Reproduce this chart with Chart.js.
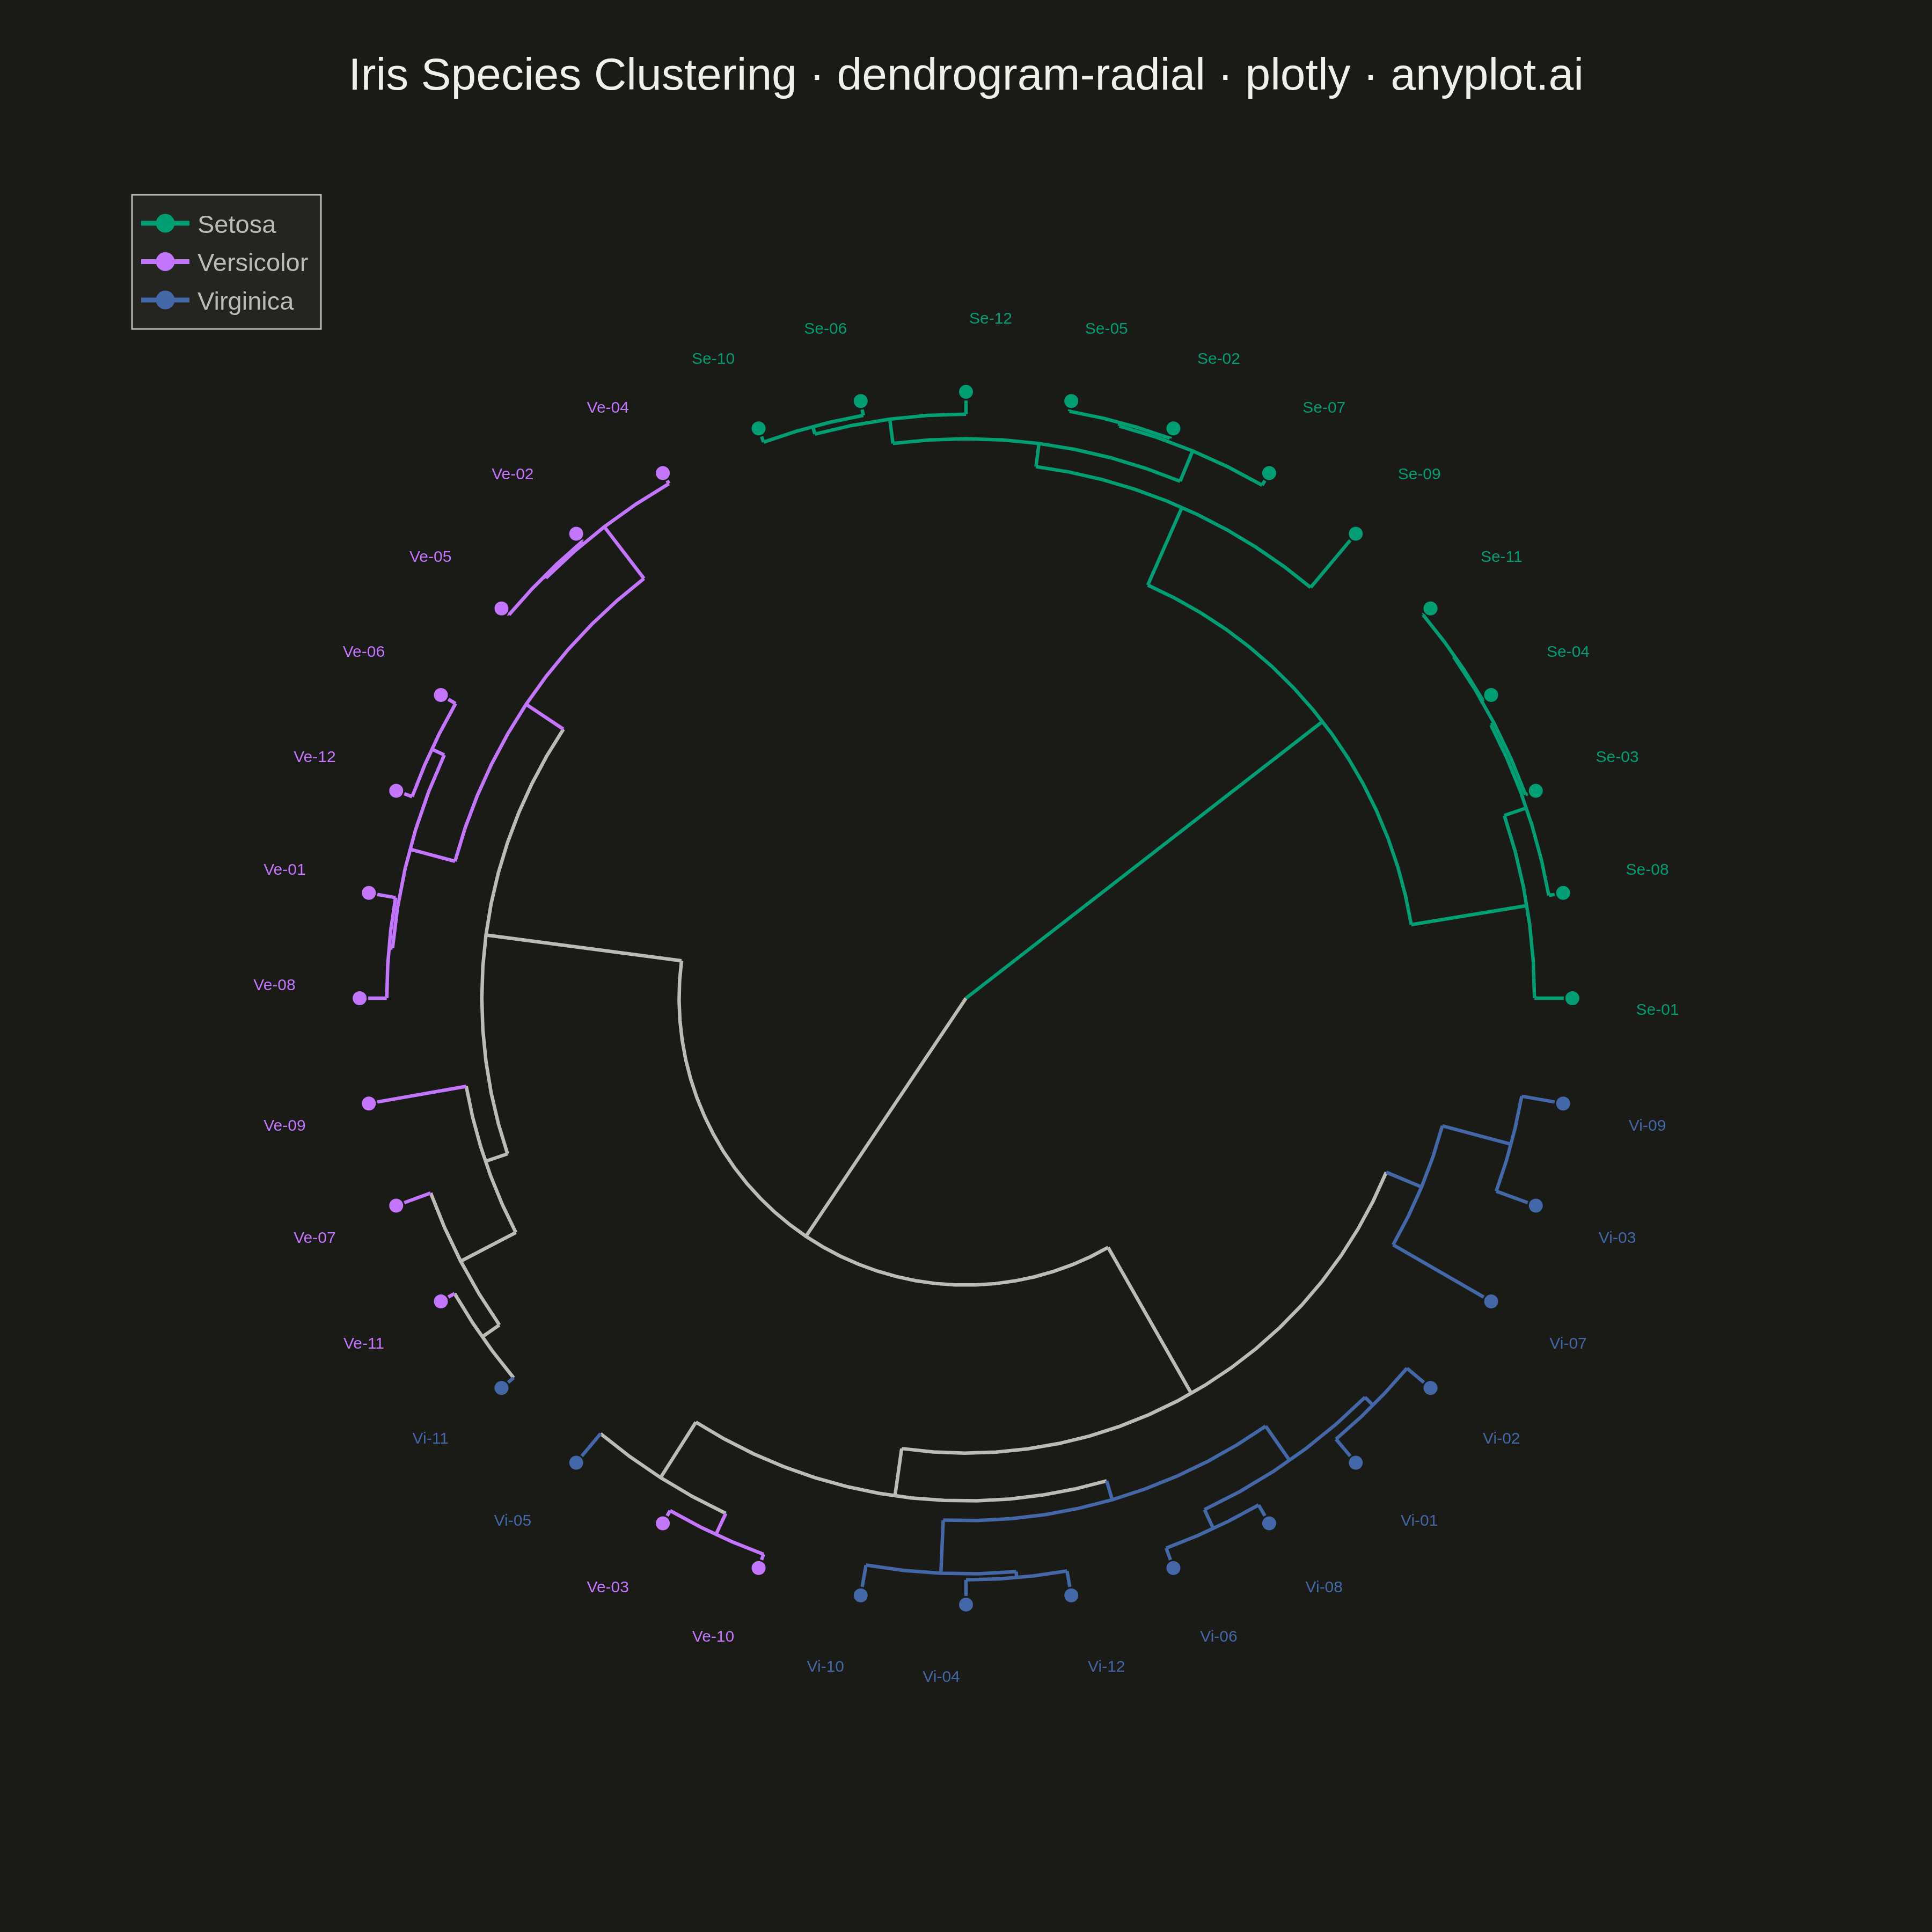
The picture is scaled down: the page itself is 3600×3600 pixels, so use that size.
<!DOCTYPE html>
<html>
<head>
<meta charset="utf-8">
<script src="https://cdn.jsdelivr.net/npm/chart.js@4.4.0/dist/chart.umd.min.js"></script>
<style>
  html, body { margin: 0; padding: 0; background: #1a1a17; }
  canvas { display: block; }
</style>
</head>
<body>
<canvas id="dendro" width="3600" height="3600" style="width:3600px;height:3600px"></canvas>
<script>
// Leaf order around the circle (counter-clockwise from 3 o'clock)
const leafNames = ['Se-01', 'Se-08', 'Se-03', 'Se-04', 'Se-11', 'Se-09', 'Se-07', 'Se-02', 'Se-05', 'Se-12', 'Se-06', 'Se-10',
    'Ve-04', 'Ve-02', 'Ve-05', 'Ve-06', 'Ve-12', 'Ve-01', 'Ve-08', 'Ve-09', 'Ve-07', 'Ve-11', 'Vi-11', 'Vi-05',
    'Ve-03', 'Ve-10', 'Vi-10', 'Vi-04', 'Vi-12', 'Vi-06', 'Vi-08', 'Vi-01', 'Vi-02', 'Vi-07', 'Vi-03', 'Vi-09'];

// Linkage: merge k joins mergeA[k] and mergeB[k] at mergeHeight[k]; '#k' refers to merge k
const mergeA = ['Se-04', 'Se-03', 'Se-08', 'Se-01', 'Se-02', 'Se-07', 'Se-06', 'Se-12', '#7', 'Se-09', '#3',
    'Ve-02', 'Ve-04', 'Ve-06', 'Ve-01', '#13', '#12', 'Ve-11', 'Ve-07', 'Ve-09', '#16',
    'Ve-03', 'Vi-05', 'Vi-04', 'Vi-10', 'Vi-06', 'Vi-01', '#25', '#24', '#22', 'Vi-03', 'Vi-07', '#29', '#20', '#10'];
const mergeB = ['Se-11', '#0', '#1', '#2', 'Se-05', '#4', 'Se-10', '#6', '#5', '#8', '#9',
    'Ve-05', '#11', 'Ve-12', 'Ve-08', '#14', '#15', 'Vi-11', '#17', '#18', '#19',
    'Ve-10', '#21', 'Vi-12', '#23', 'Vi-08', 'Vi-02', '#26', '#27', '#28', 'Vi-09', '#30', '#31', '#32', '#33'];
const mergeHeight = [0.02, 0.04, 0.10, 0.49, 0.03, 0.09, 0.10, 0.23, 0.64, 1.03, 2.45,
    0.02, 0.06, 0.14, 0.31, 0.37, 1.15, 0.12, 0.47, 1.51, 1.90,
    0.10, 0.49, 0.27, 0.37, 0.21, 0.37, 0.56, 1.26, 1.59, 0.56, 1.75, 2.39, 5.20, 10.00];

const speciesNames = ['Setosa', 'Versicolor', 'Virginica'];
const speciesPrefix = ['Se', 'Ve', 'Vi'];
const speciesColors = ['#009E73', '#C475FD', '#4467A8'];
const mixedColor = '#BDBCB4';

const markerRadius = 1.0144; // leaf dots sit just outside the tips
const labelRadius = 1.1155;

// Tree geometry
const rootHeight = Math.max(...mergeHeight);
const angleOf = {};
const heightOf = {};
const speciesOf = {};

leafNames.forEach((name, i) => {
    angleOf[name] = i * 360 / leafNames.length;
    heightOf[name] = 0;
    speciesOf[name] = speciesPrefix.indexOf(name.slice(0, 2));
});

function toRadius(h) {
    return 1 - h / rootHeight;
}

function polar(r, deg) {
    const t = deg * Math.PI / 180;
    return { x: r * Math.cos(t), y: r * Math.sin(t) };
}

function colorOf(id) {
    return speciesOf[id] >= 0 ? speciesColors[speciesOf[id]] : mixedColor;
}

const datasets = [];

function addSegment(points, color) {
    datasets.push({
        data: points,
        showLine: true,
        borderColor: color,
        borderWidth: 6.5,
        pointRadius: 0,
        pointHoverRadius: 0,
        order: 1
    });
}

mergeHeight.forEach((h, k) => {
    const id = '#' + k;
    const a = mergeA[k];
    const b = mergeB[k];
    angleOf[id] = (angleOf[a] + angleOf[b]) / 2;
    heightOf[id] = h;
    speciesOf[id] = speciesOf[a] === speciesOf[b] ? speciesOf[a] : -1;

    const r = toRadius(h);
    // radial lines from each child up to this merge, coloured by the child
    [a, b].forEach(child => {
        addSegment([polar(toRadius(heightOf[child]), angleOf[child]), polar(r, angleOf[child])], colorOf(child));
    });
    // arc joining the two children (coarse polyline), coloured by the merged cluster
    const a1 = angleOf[a];
    const a2 = angleOf[b];
    const steps = Math.max(2, Math.ceil(Math.abs(a2 - a1) / 4) + 1);
    const arc = [];
    for (let s = 0; s < steps; s++) {
        arc.push(polar(r, a1 + (a2 - a1) * s / (steps - 1)));
    }
    addSegment(arc, colorOf(id));
});

// Leaf dots, one dataset per species
speciesNames.forEach((sp, si) => {
    datasets.push({
        label: sp,
        data: leafNames.filter(n => speciesOf[n] === si).map(n => polar(markerRadius, angleOf[n])),
        showLine: false,
        pointRadius: 13,
        pointHoverRadius: 13,
        pointBackgroundColor: speciesColors[si],
        pointBorderWidth: 0,
        order: 0
    });
});

// Leaf labels, title and legend drawn on the canvas
const decorations = {
    id: 'decorations',
    afterDatasetsDraw(chart) {
        const ctx = chart.ctx;
        const xs = chart.scales.x;
        const ys = chart.scales.y;
        ctx.save();
        ctx.font = '30px "Liberation Sans", Arial, sans-serif';
        ctx.textAlign = 'center';
        ctx.textBaseline = 'middle';
        leafNames.forEach(name => {
            const p = polar(labelRadius, angleOf[name]);
            const t = (angleOf[name] - 5) * Math.PI / 180;
            const ox = Math.cos(t) > 0 ? 46 : -46;
            const oy = Math.sin(t) > 0 ? -23 : 23;
            ctx.fillStyle = speciesColors[speciesOf[name]];
            ctx.fillText(name, xs.getPixelForValue(p.x) + ox, ys.getPixelForValue(p.y) + oy);
        });

        // title
        ctx.font = '84px "Liberation Sans", Arial, sans-serif';
        ctx.textBaseline = 'alphabetic';
        ctx.fillStyle = '#F0EFE8';
        ctx.fillText('Iris Species Clustering \u00b7 dendrogram-radial \u00b7 plotly \u00b7 anyplot.ai', 1800, 167);

        // legend
        ctx.fillStyle = '#242420';
        ctx.fillRect(246, 363, 352, 250);
        ctx.strokeStyle = '#BDBCB4';
        ctx.lineWidth = 3;
        ctx.strokeRect(246, 363, 352, 250);
        ctx.font = '47px "Liberation Sans", Arial, sans-serif';
        ctx.textAlign = 'left';
        ctx.textBaseline = 'middle';
        speciesNames.forEach((sp, i) => {
            const y = 416 + i * 71.5;
            ctx.strokeStyle = speciesColors[i];
            ctx.lineWidth = 9;
            ctx.beginPath();
            ctx.moveTo(263, y);
            ctx.lineTo(353, y);
            ctx.stroke();
            ctx.fillStyle = speciesColors[i];
            ctx.beginPath();
            ctx.arc(308, y, 17.5, 0, Math.PI * 2);
            ctx.fill();
            ctx.fillStyle = '#BDBCB4';
            ctx.fillText(sp, 368, y + 5);
        });
        ctx.restore();
    }
};

const chart = new Chart(document.getElementById('dendro').getContext('2d'), {
    type: 'scatter',
    data: { datasets: datasets },
    options: {
        responsive: false,
        devicePixelRatio: 1,
        animation: false,
        layout: { padding: { left: 352, right: 352, top: 412, bottom: 292 } },
        scales: {
            x: { type: 'linear', min: -1.3, max: 1.3, display: false },
            y: { type: 'linear', min: -1.3, max: 1.3, display: false }
        },
        plugins: {
            legend: { display: false },
            tooltip: { enabled: false }
        }
    },
    plugins: [decorations]
});
</script>
</body>
</html>
